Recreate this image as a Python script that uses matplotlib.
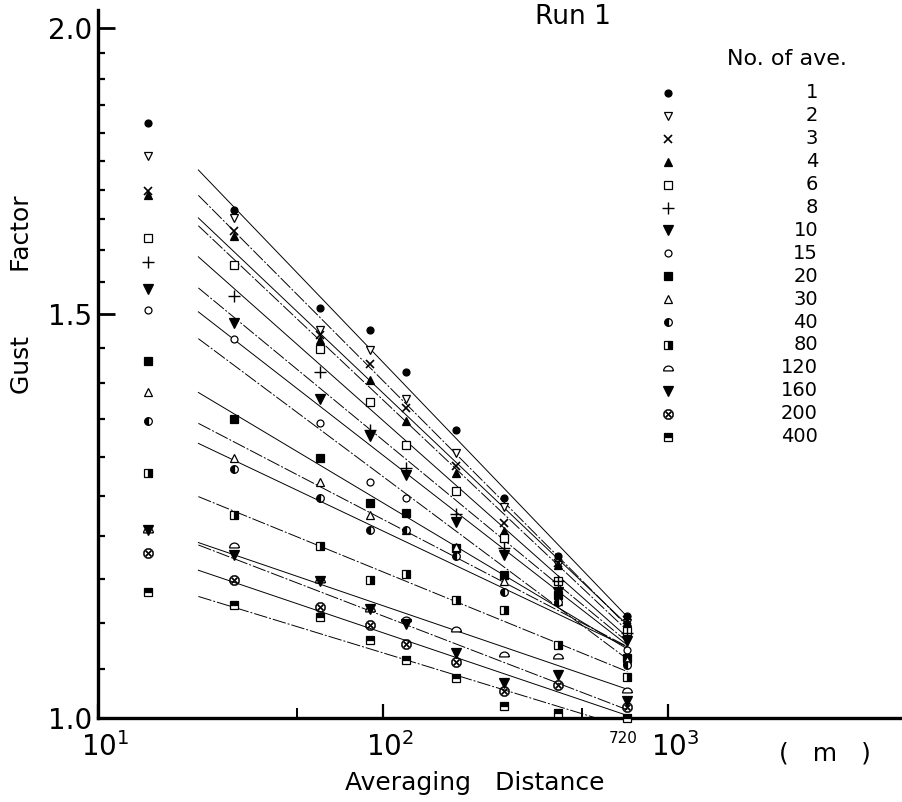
import numpy as np
import matplotlib.pyplot as plt
import matplotlib.path as mpath
import matplotlib.transforms as mtransforms
from matplotlib.ticker import FixedLocator, FixedFormatter, NullFormatter

# gust factor vs averaging distance, Run 1
distance = [15, 30, 60, 90, 120, 180, 265, 410, 720]
n_ave = ['1', '2', '3', '4', '6', '8', '10', '15', '20', '30', '40', '80', '120', '160', '200', '400']

gf_1 = [1.818, 1.666, 1.509, 1.476, 1.415, 1.336, 1.247, 1.177, 1.108]
gf_2 = [1.758, 1.652, 1.476, 1.447, 1.377, 1.305, 1.236, 1.166, 1.100]
gf_3 = [1.697, 1.630, 1.469, 1.427, 1.365, 1.288, 1.216, 1.168, 1.103]
gf_4 = [1.690, 1.622, 1.462, 1.404, 1.347, 1.279, 1.206, 1.166, 1.101]
gf_6 = [1.620, 1.576, 1.448, 1.374, 1.316, 1.256, 1.198, 1.147, 1.091]
gf_8 = [1.580, 1.527, 1.415, 1.336, 1.285, 1.227, 1.186, 1.147, 1.089]
gf_10 = [1.538, 1.487, 1.377, 1.328, 1.276, 1.217, 1.178, 1.135, 1.080]
gf_15 = [1.507, 1.463, 1.345, 1.267, 1.247, 1.186, 1.153, 1.133, 1.071]
gf_20 = [1.431, 1.350, 1.299, 1.241, 1.228, 1.186, 1.154, 1.132, 1.062]
gf_30 = [1.388, 1.299, 1.267, 1.226, 1.208, 1.187, 1.147, 1.125, 1.060]
gf_40 = [1.347, 1.284, 1.247, 1.208, 1.208, 1.177, 1.135, 1.124, 1.055]
gf_80 = [1.279, 1.226, 1.189, 1.149, 1.156, 1.126, 1.115, 1.076, 1.042]
gf_120 = [1.208, 1.190, 1.149, 1.116, 1.105, 1.093, 1.066, 1.064, 1.029]
gf_160 = [1.208, 1.178, 1.148, 1.116, 1.099, 1.067, 1.036, 1.044, 1.017]
gf_200 = [1.180, 1.149, 1.118, 1.098, 1.077, 1.058, 1.027, 1.034, 1.011]
gf_400 = [1.135, 1.120, 1.107, 1.081, 1.060, 1.041, 1.012, 1.005, 1.000]

gust = [gf_1, gf_2, gf_3, gf_4, gf_6, gf_8, gf_10, gf_15,
        gf_20, gf_30, gf_40, gf_80, gf_120, gf_160, gf_200, gf_400]

# fitted lines are drawn from here to the last column
line_start = 22.5

# dome marker for 120
arc = mpath.Path.arc(0, 180)
dome = mpath.Path(np.vstack([arc.vertices, [[1, 0]]]) - [0, 0.5],
                  list(arc.codes) + [mpath.Path.LINETO])

K, W = 'black', 'white'
styles = [
    dict(marker='o', mfc=K, ms=5),
    dict(marker='v', mfc=W, ms=6),
    dict(marker='x', mfc=K, ms=6, mew=1.2),
    dict(marker='^', mfc=K, ms=6),
    dict(marker='s', mfc=W, ms=5.5),
    dict(marker='+', mfc=K, ms=8, mew=1.0),
    dict(marker='v', mfc=K, ms=6.5),
    dict(marker='o', mfc=W, ms=5),
    dict(marker='s', mfc=K, ms=5.5),
    dict(marker='^', mfc=W, ms=6),
    dict(marker='o', mfc=K, ms=5.5, fillstyle='left', mfcalt=W),
    dict(marker='s', mfc=K, ms=5.5, fillstyle='right', mfcalt=W),
    dict(marker=dome, mfc=W, ms=7),
    dict(marker='v', mfc=K, ms=6.5),
    dict(marker='$\\otimes$', mfc=K, ms=7.5, mew=0.3),
    dict(marker='s', mfc=K, ms=5.5, fillstyle='top', mfcalt=W),
]
styles = [{'mec': K, 'mew': 0.9, **st} for st in styles]

fig = plt.figure(figsize=(9.02, 8.02), dpi=100)
ax = fig.add_axes([98 / 902, 84 / 802, 802 / 902, 708 / 802])
ax.set_xscale('log')
ax.set_yscale('log')

logx = np.log10(distance)
xs = np.array([line_start, distance[-1]])
for i, (g, st) in enumerate(zip(gust, styles)):
    coef = np.polyfit(logx, np.log10(g), 1)
    ls = '-' if i % 2 == 0 else (0, (14, 2, 2, 2))
    ax.plot(xs, 10 ** np.polyval(coef, np.log10(xs)), color=K, lw=0.7, ls=ls, zorder=1)
    ax.plot(distance, g, ls='none', clip_on=False, zorder=3, **st)

ax.set_xlim(10, 6516)
ax.set_ylim(1.0, 2.036)

ax.xaxis.set_major_locator(FixedLocator([10, 100, 1000]))
ax.xaxis.set_major_formatter(FixedFormatter(['$10^1$', '$10^2$', '$10^3$']))
ax.xaxis.set_minor_locator(FixedLocator([50, 500]))
ax.xaxis.set_minor_formatter(NullFormatter())
ax.yaxis.set_major_locator(FixedLocator([1.0, 1.5, 2.0]))
ax.yaxis.set_major_formatter(FixedFormatter(['1.0', '1.5', '2.0']))
ax.yaxis.set_minor_locator(FixedLocator(np.arange(1.05, 2.0, 0.05)))
ax.yaxis.set_minor_formatter(NullFormatter())

ax.tick_params(axis='both', which='both', direction='in', colors=K)
ax.tick_params(axis='y', which='major', length=12, width=2, labelsize=20, pad=4)
ax.tick_params(axis='y', which='minor', length=5, width=1.6)
ax.tick_params(axis='x', which='major', length=10, width=1.6, labelsize=20, pad=10)
ax.tick_params(axis='x', which='minor', length=7, width=1.4)
# nudge the 10^n labels slightly right, as in the original lettering
shift = mtransforms.ScaledTranslation(5 / 72, 0, fig.dpi_scale_trans)
for lab in ax.get_xticklabels():
    lab.set_transform(lab.get_transform() + shift)

for side in ['top', 'right']:
    ax.spines[side].set_visible(False)
for side in ['left', 'bottom']:
    ax.spines[side].set_linewidth(2.4)

ax.annotate('720', xy=(720, 1.0), xytext=(-3, -15), textcoords='offset points',
            ha='center', va='center', fontsize=11)

fig.text(573 / 902, 1 - 17 / 802, 'Run 1', ha='center', va='center', fontsize=19)
fig.text(475 / 902, 1 - 783 / 802, 'Averaging   Distance', ha='center', va='center', fontsize=18)
fig.text(825 / 902, 1 - 754 / 802, '(   m   )', ha='center', va='center', fontsize=18)
fig.text(22 / 902, 1 - 295 / 802, 'Gust        Factor', ha='center', va='center',
         rotation=90, fontsize=18)

# legend drawn by hand: marker column and right-aligned counts
ax.text((787 - 98) / 802, (718 - 59) / 708, 'No. of ave.', transform=ax.transAxes,
        ha='center', va='center', fontsize=16)
for i, (lab, st) in enumerate(zip(n_ave, styles)):
    yy = (718 - (93 + 22.9 * i)) / 708
    ax.plot([(668 - 98) / 802], [yy], transform=ax.transAxes, ls='none',
            clip_on=False, **st)
    ax.text((818 - 98) / 802, yy, lab, transform=ax.transAxes, ha='right',
            va='center', fontsize=14)

fig.savefig('out.png', dpi=100)
